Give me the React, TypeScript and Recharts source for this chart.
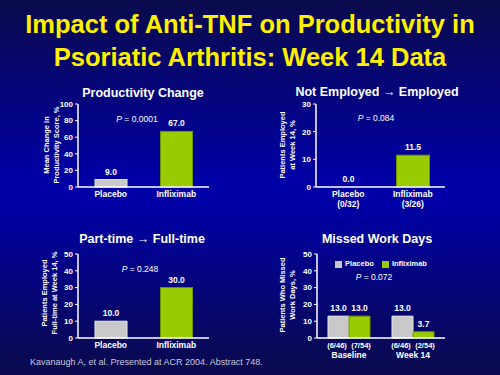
import React from "react";
import { BarChart, Bar, XAxis, YAxis, LabelList, Legend } from "recharts";

// Productivity change
const prodCategories = ["Placebo", "Infliximab"];
const prodValues = [9.0, 67.0];
const prodTicks = [0, 20, 40, 60, 80, 100];

// Not employed -> employed
const empCategories = ["Placebo", "Infliximab"];
const empCounts = ["(0/32)", "(3/26)"];
const empValues = [0.0, 11.5];
const empTicks = [0, 10, 20, 30];

// Part-time -> full-time
const ftCategories = ["Placebo", "Infliximab"];
const ftValues = [10.0, 30.0];
const ftTicks = [0, 10, 20, 30, 40, 50];

// Missed work days
const missedCategories = ["Baseline", "Week 14"];
const missedPlacebo = [13.0, 13.0];
const missedInfliximab = [13.0, 3.7];
const missedPlaceboN = ["(6/46)", "(6/46)"];
const missedInfliximabN = ["(7/54)", "(2/54)"];
const missedTicks = [0, 10, 20, 30, 40, 50];

const FONT = "Arial, 'Liberation Sans', sans-serif";
const GREY = "#C9C9C9";
const GREEN = "#99CC00";
const WHITE = "#FFFFFF";

const labelStyle = { fill: WHITE, fontSize: 8.5, fontWeight: 700, fontFamily: FONT };
const smallStyle = { fill: WHITE, fontSize: 7.5, fontWeight: 700, fontFamily: FONT };

type Plot = { x0: number; y0: number; x1: number; y1: number };

function Panel({
  plot,
  data,
  ticks,
  xHeight,
  tick,
  children,
}: {
  plot: Plot;
  data: any[];
  ticks: number[];
  xHeight: number;
  tick: any;
  children: React.ReactNode;
}) {
  const left = plot.x0 - 40;
  const top = plot.y0 - 6;
  const width = plot.x1 - left + 6;
  const height = plot.y1 - top + xHeight + 2;
  return (
    <div style={{ position: "absolute", left, top }}>
      <BarChart
        width={width}
        height={height}
        data={data}
        margin={{ top: 6, right: 6, left: 10, bottom: 2 }}
        barGap={0}
        style={{ overflow: "visible" }}
      >
        <XAxis
          dataKey="name"
          height={xHeight}
          interval={0}
          tickLine={false}
          axisLine={{ stroke: WHITE, strokeWidth: 1.5 }}
          tick={tick}
        />
        <XAxis
          xAxisId="top"
          dataKey="name"
          orientation="top"
          height={0}
          tick={false}
          tickLine={false}
          axisLine={{ stroke: WHITE, strokeWidth: 1.5 }}
        />
        <YAxis
          width={30}
          domain={[0, ticks[ticks.length - 1]]}
          ticks={ticks}
          interval={0}
          tickSize={3}
          tickLine={{ stroke: WHITE }}
          axisLine={{ stroke: WHITE, strokeWidth: 1.5 }}
          tick={{ fill: WHITE, fontSize: 8, fontWeight: 700, fontFamily: FONT }}
        />
        <YAxis
          yAxisId="r"
          orientation="right"
          width={0}
          tick={false}
          tickLine={false}
          axisLine={{ stroke: WHITE, strokeWidth: 1.5 }}
        />
        {children}
      </BarChart>
    </div>
  );
}

const simpleTick = (props: any) => {
  const { x, y, payload } = props;
  return (
    <text x={x} y={y + 2} textAnchor="middle" style={labelStyle}>
      {payload.value}
    </text>
  );
};

const empTick = (props: any) => {
  const { x, y, payload } = props;
  return (
    <g>
      <text x={x} y={y + 2} textAnchor="middle" style={labelStyle}>
        {payload.value}
      </text>
      <text x={x} y={y + 12} textAnchor="middle" style={labelStyle}>
        {empCounts[payload.index]}
      </text>
    </g>
  );
};

const missedTick = (props: any) => {
  const { x, y, payload } = props;
  return (
    <g>
      <text x={x - 12} y={y + 2} textAnchor="middle" style={smallStyle}>
        {missedPlaceboN[payload.index]}
      </text>
      <text x={x + 12} y={y + 2} textAnchor="middle" style={smallStyle}>
        {missedInfliximabN[payload.index]}
      </text>
      <text x={x} y={y + 12} textAnchor="middle" style={labelStyle}>
        {payload.value}
      </text>
    </g>
  );
};

const missedLegend = () => (
  <div
    style={{
      display: "flex",
      justifyContent: "center",
      gap: 8,
      fontSize: 7.5,
      fontWeight: 700,
      fontFamily: FONT,
      color: WHITE,
      lineHeight: "10px",
    }}
  >
    {[
      { label: "Placebo", color: GREY },
      { label: "Infliximab", color: GREEN },
    ].map((it) => (
      <span key={it.label} style={{ display: "flex", alignItems: "center" }}>
        <span style={{ display: "inline-block", width: 7, height: 7, background: it.color, marginRight: 3 }} />
        {it.label}
      </span>
    ))}
  </div>
);

function Title({ text, cx, cy }: { text: string; cx: number; cy: number }) {
  return (
    <div
      style={{
        position: "absolute",
        left: cx - 110,
        top: cy - 8,
        width: 220,
        height: 16,
        lineHeight: "16px",
        textAlign: "center",
        color: WHITE,
        fontSize: 12.5,
        fontWeight: 700,
        fontFamily: FONT,
        whiteSpace: "nowrap",
      }}
    >
      {text}
    </div>
  );
}

function YLabel({ lines, cx, cy }: { lines: string[]; cx: number; cy: number }) {
  return (
    <div
      style={{
        position: "absolute",
        left: cx - 60,
        top: cy - 10,
        width: 120,
        height: 20,
        lineHeight: "10px",
        textAlign: "center",
        color: WHITE,
        fontSize: 7.5,
        fontWeight: 700,
        fontFamily: FONT,
        transform: "rotate(-90deg)",
        whiteSpace: "nowrap",
      }}
    >
      {lines.map((l) => (
        <div key={l}>{l}</div>
      ))}
    </div>
  );
}

function PValue({ value, cx, cy }: { value: string; cx: number; cy: number }) {
  return (
    <div
      style={{
        position: "absolute",
        left: cx - 40,
        top: cy - 6,
        width: 80,
        height: 12,
        lineHeight: "12px",
        textAlign: "center",
        color: WHITE,
        fontSize: 8.5,
        fontFamily: FONT,
      }}
    >
      <i>P</i> = {value}
    </div>
  );
}

const barShape = (p: any) => (
  <rect
    x={p.x}
    y={p.y}
    width={p.width}
    height={p.height}
    fill={p.index === 0 ? GREY : GREEN}
    stroke={p.index === 0 ? "#E8E8E8" : "#6E9400"}
    strokeWidth={1}
  />
);

const fmt = (v: any) => Number(v).toFixed(1);

export default function App() {
  const prodData = prodCategories.map((name, i) => ({ name, value: prodValues[i] }));
  const empData = empCategories.map((name, i) => ({ name, value: empValues[i] }));
  const ftData = ftCategories.map((name, i) => ({ name, value: ftValues[i] }));
  const missedData = missedCategories.map((name, i) => ({
    name,
    placebo: missedPlacebo[i],
    infliximab: missedInfliximab[i],
  }));

  return (
    <div
      style={{
        position: "absolute",
        left: 0,
        top: 0,
        width: 500,
        height: 375,
        overflow: "hidden",
        background: "linear-gradient(to bottom, #0a0a4c 0%, #0000a6 48%, #0000a6 55%, #0a0a4c 100%)",
        fontFamily: FONT,
      }}
    >
      <div
        style={{
          position: "absolute",
          left: 0,
          top: 8,
          width: 500,
          textAlign: "center",
          color: "#FFF000",
          fontSize: 25.5,
          fontWeight: 700,
          lineHeight: "33px",
        }}
      >
        Impact of Anti-TNF on Productivity in
        <br />
        Psoriatic Arthritis: Week 14 Data
      </div>

      <Title text="Productivity Change" cx={143} cy={93} />
      <Title text="Not Employed → Employed" cx={377} cy={92} />
      <Title text="Part-time → Full-time" cx={142} cy={239} />
      <Title text="Missed Work Days" cx={377} cy={239} />

      <YLabel lines={["Mean Change in", "Productivity Score, %"]} cx={52} cy={145} />
      <YLabel lines={["Patients Employed", "at Week 14, %"]} cx={288} cy={145} />
      <YLabel lines={["Patients Employed", "Full-time at Week 14, %"]} cx={50} cy={293} />
      <YLabel lines={["Patients Who Missed", "Work Days, %"]} cx={288} cy={295} />

      <Panel plot={{ x0: 78, y0: 104, x1: 209, y1: 187 }} data={prodData} ticks={prodTicks} xHeight={14} tick={simpleTick}>
        <Bar dataKey="value" barSize={32} isAnimationActive={false} shape={barShape}>
          <LabelList dataKey="value" position="top" offset={5} formatter={fmt} style={labelStyle} />
        </Bar>
      </Panel>

      <Panel plot={{ x0: 316, y0: 104, x1: 445, y1: 187 }} data={empData} ticks={empTicks} xHeight={24} tick={empTick}>
        <Bar dataKey="value" barSize={33} isAnimationActive={false} shape={barShape}>
          <LabelList dataKey="value" position="top" offset={5} formatter={fmt} style={labelStyle} />
        </Bar>
      </Panel>

      <Panel plot={{ x0: 78, y0: 254, x1: 209, y1: 338 }} data={ftData} ticks={ftTicks} xHeight={14} tick={simpleTick}>
        <Bar dataKey="value" barSize={32} isAnimationActive={false} shape={barShape}>
          <LabelList dataKey="value" position="top" offset={5} formatter={fmt} style={labelStyle} />
        </Bar>
      </Panel>

      <Panel plot={{ x0: 317, y0: 254, x1: 445, y1: 338 }} data={missedData} ticks={missedTicks} xHeight={24} tick={missedTick}>
        <Legend
          layout="horizontal"
          verticalAlign="middle"
          align="center"
          content={missedLegend}
          wrapperStyle={{ top: 11, left: 40, width: 128 }}
        />
        <Bar dataKey="placebo" name="Placebo" fill={GREY} stroke="#E8E8E8" barSize={21} isAnimationActive={false}>
          <LabelList dataKey="placebo" position="top" offset={5} formatter={fmt} style={labelStyle} />
        </Bar>
        <Bar dataKey="infliximab" name="Infliximab" fill={GREEN} stroke="#6E9400" barSize={21} isAnimationActive={false}>
          <LabelList dataKey="infliximab" position="top" offset={5} formatter={fmt} style={labelStyle} />
        </Bar>
      </Panel>

      <PValue value="0.0001" cx={137} cy={119} />
      <PValue value="0.084" cx={376} cy={118} />
      <PValue value="0.248" cx={140} cy={269} />
      <PValue value="0.072" cx={374} cy={277} />

      <div
        style={{
          position: "absolute",
          left: 30,
          top: 357,
          color: "#C8C8DC",
          fontSize: 9,
          fontFamily: FONT,
          whiteSpace: "nowrap",
        }}
      >
        Kavanaugh A, et al. Presented at ACR 2004. Abstract 748.
      </div>
    </div>
  );
}
